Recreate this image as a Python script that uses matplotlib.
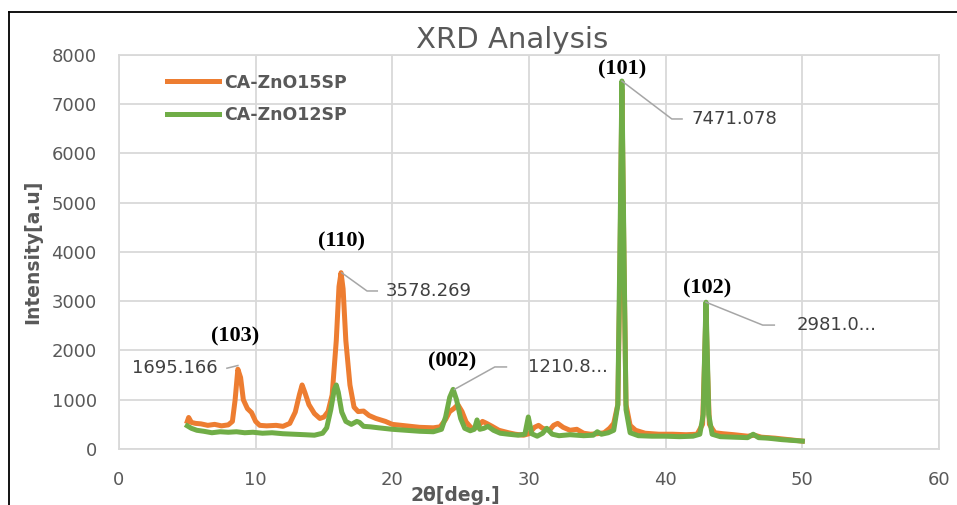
import matplotlib
matplotlib.use('Agg')
from matplotlib import pyplot as plt
from matplotlib.lines import Line2D

# DATA
tt_15 = [5.0, 5.1, 5.3, 5.6, 6.0, 6.5, 7.0, 7.5, 8.0, 8.3, 8.5, 8.7, 8.9, 9.1, 9.4, 9.7, 10.0,
         10.3, 10.8, 11.5, 12.0, 12.5, 12.9, 13.2, 13.4, 13.6, 13.9, 14.3, 14.7, 15.0, 15.3, 15.6,
         15.9, 16.1, 16.25, 16.4, 16.6, 16.9, 17.2, 17.5, 17.9, 18.3, 18.8, 19.5, 20.0, 21.0, 22.0,
         23.0, 23.5, 23.9, 24.2, 24.5, 24.8, 25.1, 25.4, 25.8, 26.2, 26.6, 26.9, 27.3, 27.8, 28.5,
         29.0, 29.6, 30.0, 30.4, 30.7, 31.0, 31.5, 31.8, 32.1, 32.5, 33.0, 33.5, 34.0, 34.5, 35.0,
         35.5, 35.9, 36.2, 36.5, 36.65, 36.8, 36.95, 37.1, 37.4, 37.8, 38.5, 39.5, 40.5, 41.5, 42.3,
         42.7, 42.85, 42.95, 43.05, 43.2, 43.6, 44.2, 45.0, 46.0, 46.5, 47.0, 48.0, 49.0, 50.0]
int_15 = [560, 640, 540, 520, 510, 480, 500, 470, 490, 560, 1000, 1620, 1450, 1000, 820, 740, 560,
          480, 470, 480, 460, 520, 750, 1100, 1300, 1150, 900, 720, 620, 650, 760, 1100,
          2200, 3300, 3580, 3250, 2200, 1300, 850, 760, 770, 680, 620, 560, 500, 470, 440,
          430, 450, 600, 760, 820, 900, 760, 550, 420, 440, 560, 520, 460, 380, 330,
          300, 280, 310, 440, 480, 420, 380, 480, 520, 440, 380, 400, 320, 300, 310,
          330, 420, 520, 900, 3500, 7300, 3800, 900, 480, 380, 320, 300, 300, 290, 300,
          500, 1800, 2850, 1700, 500, 330, 310, 290, 260, 280, 240, 220, 190, 160]

tt_12 = [5.0, 5.3, 5.7, 6.2, 6.8, 7.4, 8.0, 8.6, 9.2, 9.8, 10.5, 11.2, 12.0, 12.8, 13.6, 14.3,
         14.9, 15.2, 15.5, 15.75, 15.9, 16.05, 16.3, 16.6, 17.0, 17.4, 17.6, 17.9, 18.4, 19.0,
         20.0, 21.0, 22.0, 23.0, 23.6, 23.9, 24.2, 24.45, 24.7, 25.0, 25.3, 25.7, 26.0, 26.2,
         26.4, 26.7, 27.0, 27.4, 27.9, 28.5, 29.2, 29.7, 29.95, 30.2, 30.6, 31.0, 31.3, 31.7,
         32.2, 33.0, 34.0, 34.7, 35.0, 35.3, 35.8, 36.2, 36.5, 36.65, 36.8, 36.95, 37.1, 37.4,
         38.0, 39.0, 40.0, 41.0, 42.0, 42.5, 42.75, 42.85, 42.95, 43.05, 43.15, 43.4, 44.0,
         45.0, 46.0, 46.4, 46.8, 47.5, 48.5, 49.5, 50.0]
int_12 = [470, 420, 380, 360, 330, 350, 340, 350, 330, 340, 320, 330, 310, 300, 290, 280,
          320, 430, 800, 1200, 1300, 1150, 750, 560, 500, 560, 540, 460, 450, 430,
          400, 380, 360, 350, 400, 650, 1050, 1211, 1000, 620, 420, 370, 400, 590,
          400, 420, 460, 380, 320, 300, 280, 300, 650, 310, 260, 320, 420, 300,
          270, 290, 270, 280, 350, 300, 330, 380, 900, 4000, 7471, 4000, 800, 330,
          270, 260, 260, 250, 260, 300, 700, 1900, 2981, 1900, 700, 300, 250,
          240, 230, 300, 230, 220, 190, 170, 160]

series_names = ['CA-ZnO15SP', 'CA-ZnO12SP']

# peak labels: hkl, peak position, value label
peak_hkl = ['(103)', '(110)', '(002)', '(101)', '(102)']
peak_2theta = [8.7, 16.3, 24.55, 36.8, 42.95]
peak_value = [1695.166, 3578.269, 1210.8, 7471.078, 2981.0]
value_text = ['1695.166', '3578.269', '1210.8...', '7471.078', '2981.0...']

ORANGE = '#ED7D31'
GREEN = '#70AD47'
GRID = '#d9d9d9'
TXT = '#595959'

fig = plt.figure(figsize=(9.57, 5.05), dpi=100)
ax = fig.add_axes([0.1243, 0.1109, 0.8569, 0.7802])

ax.plot(tt_15, int_15, color=ORANGE, lw=3.6, label=series_names[0], solid_joinstyle='round')
ax.plot(tt_12, int_12, color=GREEN, lw=3.6, label=series_names[1], solid_joinstyle='round')

ax.set_xlim(0, 60)
ax.set_ylim(0, 8000)
ax.set_xticks(range(0, 61, 10))
ax.set_yticks(range(0, 8001, 1000))
ax.grid(True, color=GRID, lw=1.3)
ax.set_axisbelow(True)
for s in ax.spines.values():
    s.set_color(GRID)
    s.set_linewidth(1.3)
ax.tick_params(length=0, labelsize=13, labelcolor=TXT)
ax.tick_params(axis='x', pad=16)
ax.tick_params(axis='y', pad=16)

# leader lines and labels (offsets in data units, relative to the peak)
leader_dx = [(-0.8, -0.8), (1.85, 2.6), (2.95, 3.8), (3.65, 4.4), (4.15, 5.0)]
leader_dy = [(-55, -55), (-370, -370), (455, 455), (-770, -770), (-465, -465)]
text_dx = [-1.5, 3.25, 5.35, 5.1, 6.6]
text_ha = ['right', 'left', 'left', 'left', 'left']
hkl_dx = [-0.2, 0.0, -0.2, 0.05, 0.05]
hkl_dy = [580, 640, 560, 230, 270]

for i in range(len(peak_hkl)):
    px, py = peak_2theta[i], peak_value[i]
    xs = [px, px + leader_dx[i][0], px + leader_dx[i][1]]
    ys = [py, py + leader_dy[i][0], py + leader_dy[i][1]]
    ax.plot(xs, ys, color='#a6a6a6', lw=1.1, zorder=4)
    ax.text(px + text_dx[i], ys[-1], value_text[i], ha=text_ha[i], va='center',
            fontsize=13, color='#404040')
    ax.text(px + hkl_dx[i], py + hkl_dy[i], peak_hkl[i], ha='center', va='center',
            fontsize=16, fontweight='bold', family='Liberation Serif', color='black')

leg = ax.legend(loc='upper left', bbox_to_anchor=(0.048, 0.975), frameon=False,
                handlelength=3.0, handletextpad=0.3, labelspacing=0.85, borderpad=0,
                prop={'size': 12.5, 'weight': 'bold'})
for t in leg.get_texts():
    t.set_color(TXT)

ax.set_xlabel('2θ[deg.]', fontsize=13.5, fontweight='bold', color=TXT)
ax.xaxis.set_label_coords(0.41, -0.093)
ax.set_ylabel('Intensity[a.u]', fontsize=13.5, fontweight='bold', color=TXT)
ax.yaxis.set_label_coords(-0.094, 0.5)

fig.text(0.535, 0.921, 'XRD Analysis', ha='center', va='center', fontsize=21, color=TXT)

# outer chart frame (cropped at right and bottom)
fig.add_artist(Line2D([9 / 957, 1], [1 - 12 / 505, 1 - 12 / 505], color='black', lw=1.3,
                      transform=fig.transFigure))
fig.add_artist(Line2D([9 / 957, 9 / 957], [0, 1 - 12 / 505], color='black', lw=1.3,
                      transform=fig.transFigure))

fig.savefig('out.png', dpi=100)
